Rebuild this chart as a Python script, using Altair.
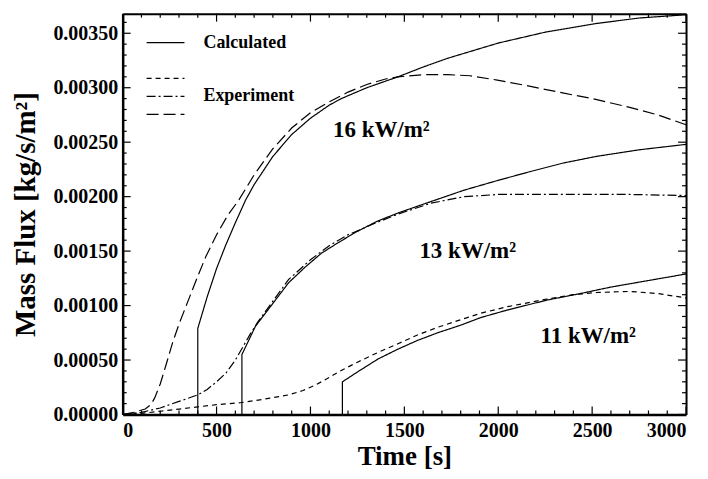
import altair as alt
import pandas as pd

# ---------------- data ----------------
calc16_t = [400, 400, 450, 500, 550, 600, 655, 700, 800, 900, 1000, 1100, 1164, 1300, 1466, 1600, 1730, 2000, 2250, 2524, 2750, 3000]
calc16_y = [0, 0.00079, 0.00108, 0.00134, 0.00156, 0.00176, 0.00197, 0.00211, 0.00237, 0.00257, 0.00272, 0.00284, 0.0029, 0.0030, 0.0031, 0.00319, 0.00327, 0.00341, 0.00351, 0.00359, 0.00364, 0.00367]

exp16_t = [0, 60, 120, 150, 170, 200, 230, 266, 300, 350, 400, 443, 500, 560, 619, 700, 800, 900, 1000, 1100, 1200, 1300, 1400, 1466, 1600, 1730, 1850, 1995, 2150, 2349, 2500, 2700, 2850, 3000]
exp16_y = [0, 0.00002, 0.00005, 0.00009, 0.00015, 0.00028, 0.00045, 0.00066, 0.00083, 0.00105, 0.00127, 0.00145, 0.00165, 0.00183, 0.00197, 0.0022, 0.00244, 0.00263, 0.00277, 0.00287, 0.00296, 0.00303, 0.00308, 0.0031, 0.00312, 0.00312, 0.00311, 0.00307, 0.00302, 0.00295, 0.0029, 0.00282, 0.00275, 0.00266]

calc13_t = [635, 635, 660, 707, 800, 884, 970, 1058, 1150, 1238, 1350, 1466, 1650, 1819, 2000, 2170, 2350, 2524, 2750, 3000]
calc13_y = [0, 0.00055, 0.00064, 0.00081, 0.00102, 0.00121, 0.00135, 0.00148, 0.00158, 0.00167, 0.00177, 0.00185, 0.00196, 0.00206, 0.00215, 0.00223, 0.00231, 0.00237, 0.00243, 0.00248]

exp13_t = [0, 100, 200, 300, 400, 450, 500, 550, 600, 640, 680, 720, 800, 884, 1000, 1100, 1200, 1350, 1466, 1642, 1819, 2000, 2300, 2700, 3000]
exp13_y = [0, 0.00002, 0.00006, 0.00012, 0.00018, 0.00023, 0.0003, 0.00038, 0.0005, 0.00062, 0.00074, 0.00085, 0.00104, 0.00124, 0.00142, 0.00155, 0.00165, 0.00176, 0.00184, 0.00194, 0.0020, 0.00202, 0.00202, 0.00202, 0.00201]

calc11_t = [1170, 1170, 1250, 1360, 1466, 1570, 1677, 1800, 1907, 2050, 2259, 2436, 2600, 2800, 3000]
calc11_y = [0, 0.0003, 0.00039, 0.00051, 0.0006, 0.00068, 0.00075, 0.00082, 0.00089, 0.00096, 0.00105, 0.00111, 0.00117, 0.00123, 0.00129]

exp11_t = [0, 100, 200, 300, 400, 500, 635, 750, 884, 960, 1026, 1090, 1148, 1250, 1360, 1466, 1570, 1677, 1800, 1907, 2050, 2259, 2400, 2524, 2700, 2850, 3000]
exp11_y = [0, 0.00001, 0.00003, 0.00005, 0.00007, 0.00009, 0.00011, 0.00014, 0.00018, 0.00022, 0.00027, 0.00033, 0.00039, 0.00048, 0.00057, 0.00065, 0.00073, 0.0008, 0.00087, 0.00093, 0.00099, 0.00106, 0.0011, 0.00112, 0.00113, 0.00111, 0.00107]

ann_text = ["16 kW/m²", "13 kW/m²", "11 kW/m²"]
ann_t = [1120, 1580, 2225]
ann_y = [0.00255, 0.00144, 0.00066]

x_major = [0, 500, 1000, 1500, 2000, 2500, 3000]
y_major = [0, 0.0005, 0.001, 0.0015, 0.002, 0.0025, 0.003, 0.0035]
x_minor = [t for t in range(0, 3001, 100) if t % 500 != 0]
y_minor = [round(i * 0.0001, 4) for i in range(0, 37) if i % 5 != 0]

# ---------------- table ----------------
series = [
    ("calc16", "Calculated", calc16_t, calc16_y),
    ("calc13", "Calculated", calc13_t, calc13_y),
    ("calc11", "Calculated", calc11_t, calc11_y),
    ("exp11", "Exp 11", exp11_t, exp11_y),
    ("exp13", "Exp 13", exp13_t, exp13_y),
    ("exp16", "Exp 16", exp16_t, exp16_y),
]
rows = []
for name, kind, ts, vs in series:
    for i, (t, v) in enumerate(zip(ts, vs)):
        rows.append({"t": t, "v": v, "line": name, "kind": kind, "idx": i})
df = pd.DataFrame(rows)
ann = pd.DataFrame({"t": ann_t, "v": ann_y, "label": ann_text})

W, H = 565, 402
FONT = "Liberation Serif"
xs = alt.Scale(domain=[0, 3000], nice=False, zero=False)
ysc = alt.Scale(domain=[0, 0.00368], nice=False, zero=False)

kind_domain = ["Calculated", "gap", "Exp 11", "Exp 13", "Exp 16"]
legend = alt.Legend(
    title=None, orient="none", legendX=24, legendY=20, padding=0,
    symbolType="M-4,0H4", symbolSize=90, symbolStrokeWidth=1.3, symbolOffset=10,
    symbolFillColor="transparent",
    labelOffset=29, labelFont=FONT, labelFontSize=18, labelFontWeight="bold",
    labelColor="black", rowPadding=0,
    labelExpr="datum.label == 'Calculated' ? 'Calculated' : (datum.label == 'Exp 13' ? 'Experiment' : '')",
)

lines = alt.Chart(df).mark_line(strokeWidth=1.2).encode(
    x=alt.X("t:Q", scale=xs, axis=alt.Axis(
        orient="bottom", values=x_major, format="d", title="Time [s]",
        ticks=False, tickSize=0, domain=True, domainWidth=2.5, domainColor="black",
        labelPadding=6, titlePadding=3, titleFontSize=27, grid=False)),
    y=alt.Y("v:Q", scale=ysc, axis=alt.Axis(
        orient="left", values=y_major, format=".5f", title="Mass Flux  [kg/s/m²]",
        ticks=False, tickSize=0, domain=True, domainWidth=2.5, domainColor="black",
        labelPadding=5, titlePadding=12, titleFontSize=29, grid=False)),
    detail="line:N",
    order="idx:Q",
    color=alt.Color("kind:N", scale=alt.Scale(domain=kind_domain,
                    range=["black", "transparent", "black", "black", "black"]), legend=legend),
    strokeDash=alt.StrokeDash("kind:N", scale=alt.Scale(domain=kind_domain,
                    range=[[1, 0], [1, 0], [5, 4], [9, 3, 2, 3], [12, 5]]), legend=legend),
)

# top / right frame lines
frame = alt.Chart(df).mark_point(opacity=0).encode(
    x=alt.X("t:Q", scale=xs, axis=alt.Axis(orient="top", labels=False, ticks=False, domain=True,
            domainWidth=2, domainColor="black", title=None, grid=False)),
    y=alt.Y("v:Q", scale=ysc, axis=alt.Axis(orient="right", labels=False, ticks=False, domain=True,
            domainWidth=2, domainColor="black", title=None, grid=False)),
)


# inward tick marks on all four sides (positions from the axis scales)
def x_ticks(vals, y0, y1):
    return alt.Chart(pd.DataFrame({"tv": vals})).mark_rule(color="black", strokeWidth=1.2).encode(
        x=alt.X("tv:Q", scale=xs, axis=None), y=alt.value(y0), y2=alt.value(y1))


def y_ticks(vals, x0, x1):
    return alt.Chart(pd.DataFrame({"tv": vals})).mark_rule(color="black", strokeWidth=1.2).encode(
        y=alt.Y("tv:Q", scale=ysc, axis=None), x=alt.value(x0), x2=alt.value(x1))


MAJ, MIN = 8, 4
tick_layers = [
    x_ticks(x_major, H, H - MAJ), x_ticks(x_minor, H, H - MIN),
    x_ticks(x_major, 0, MAJ), x_ticks(x_minor, 0, MIN),
    y_ticks(y_major, 0, MAJ), y_ticks(y_minor, 0, MIN),
    y_ticks(y_major, W, W - MAJ), y_ticks(y_minor, W, W - MIN),
]

text = alt.Chart(ann).mark_text(align="left", baseline="alphabetic", font=FONT, fontSize=23,
                                fontWeight="bold", color="black").encode(
    x=alt.X("t:Q", scale=xs, axis=None),
    y=alt.Y("v:Q", scale=ysc, axis=None),
    text="label:N",
)

chart = alt.layer(lines, frame, *tick_layers, text).resolve_axis(
    x="independent", y="independent"
).properties(
    width=W, height=H,
    autosize=alt.AutoSizeParams(type="none"),
    padding={"left": 115, "top": 5, "right": 14, "bottom": 56},
    background="white",
).configure_view(stroke=None).configure_axis(
    labelFont=FONT, labelFontSize=20, labelFontWeight="bold", labelColor="black",
    titleFont=FONT, titleFontSize=27, titleFontWeight="bold", titleColor="black",
)

chart.save("out.html", embed_options={"renderer": "svg", "actions": False})
